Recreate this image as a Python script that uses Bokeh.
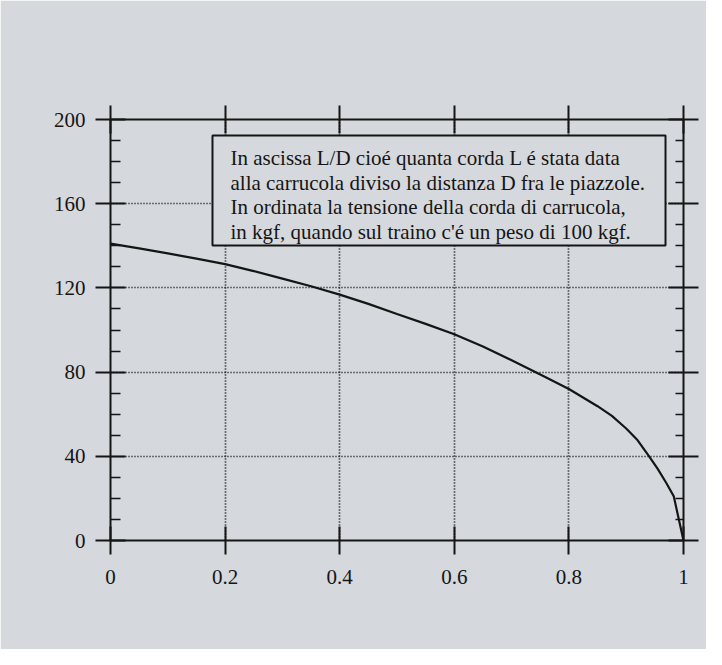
from bokeh.plotting import figure
from bokeh.models import LinearAxis, FixedTicker, Range1d, Grid
from bokeh.core.properties import value
from bokeh.embed import file_html
from bokeh.resources import INLINE

# ---- data ----
ratio = [0, 0.05, 0.1, 0.15, 0.2, 0.25, 0.3, 0.35, 0.4, 0.45, 0.5, 0.55, 0.6,
         0.65, 0.7, 0.75, 0.8, 0.85, 0.875, 0.9, 0.92, 0.94, 0.955, 0.97, 0.983, 1.0]
tension = [141, 138.8, 136.4, 133.9, 131.3, 128, 124.4, 120.8, 116.8, 112.4, 107.6, 102.9, 98,
           92.2, 85.6, 78.9, 72, 63.8, 59.2, 53.2, 47.6, 40, 34, 27.3, 21, 0]

x_ticks = [0, 0.2, 0.4, 0.6, 0.8, 1]
x_tick_labels = ["0", "0.2", "0.4", "0.6", "0.8", "1"]
y_ticks = [0, 40, 80, 120, 160, 200]
y_tick_labels = ["0", "40", "80", "120", "160", "200"]
y_minor = [10, 20, 30, 50, 60, 70, 90, 100, 110, 130, 140, 150, 170, 180, 190]
x_grid = [0.2, 0.4, 0.6, 0.8]
y_grid = [40, 80, 120, 160]

note_lines = [
    "In ascissa L/D cioé quanta corda L é stata data",
    "alla carrucola diviso la distanza D fra le piazzole.",
    "In ordinata la tensione della corda di carrucola,",
    "in kgf, quando sul traino c'é un peso di 100 kgf.",
]

BG = "#d5d8dc"
INK = "#151515"
SERIF = "Liberation Serif"

p = figure(
    width=706, height=649,
    frame_width=573, frame_height=421,
    min_border_left=110, min_border_right=23,
    min_border_top=119, min_border_bottom=109,
    x_range=Range1d(0, 1), y_range=Range1d(0, 200),
    x_axis_location=None, y_axis_location=None,
    toolbar_location=None, output_backend="svg",
)
p.background_fill_color = BG
p.border_fill_color = BG
p.outline_line_color = None
p.grid.visible = False

# dotted grid
xg = Grid(dimension=0, ticker=FixedTicker(ticks=x_grid),
          grid_line_color="#000000", grid_line_width=1.7, grid_line_dash="1 2")
yg = Grid(dimension=1, ticker=FixedTicker(ticks=y_grid),
          grid_line_color="#000000", grid_line_width=1.7, grid_line_dash="1 2")
p.add_layout(xg)
p.add_layout(yg)


def style(ax, tick_len, minor_in):
    ax.axis_line_color = INK
    ax.axis_line_width = 2
    ax.major_tick_line_color = INK
    ax.major_tick_line_width = 2
    ax.minor_tick_line_color = INK
    ax.minor_tick_line_width = 1.6
    ax.major_tick_in = tick_len
    ax.major_tick_out = tick_len
    ax.minor_tick_in = minor_in
    ax.minor_tick_out = 0
    ax.major_label_text_font = SERIF
    ax.major_label_text_font_size = "21px"
    ax.major_label_text_color = INK


left = LinearAxis(ticker=FixedTicker(ticks=y_ticks, minor_ticks=y_minor))
style(left, 15, 10)
left.major_label_overrides = dict(zip(y_ticks, y_tick_labels))
left.major_label_standoff = 10
p.add_layout(left, "left")

right = LinearAxis(ticker=FixedTicker(ticks=y_ticks, minor_ticks=y_minor))
style(right, 15, 8)
right.major_label_overrides = {t: "" for t in y_ticks}
right.major_label_standoff = 0
p.add_layout(right, "right")

bottom = LinearAxis(ticker=FixedTicker(ticks=x_ticks, minor_ticks=[]))
style(bottom, 14, 0)
bottom.major_label_overrides = dict(zip(x_ticks, x_tick_labels))
bottom.major_label_standoff = 15
p.add_layout(bottom, "below")

top = LinearAxis(ticker=FixedTicker(ticks=x_ticks, minor_ticks=[]))
style(top, 14, 0)
top.major_label_overrides = {t: "" for t in x_ticks}
top.major_label_standoff = 0
p.add_layout(top, "above")

# note box
p.quad(left=[0.178], right=[0.9686], top=[192.4], bottom=[140.1],
       fill_color=BG, fill_alpha=1, line_color=INK, line_width=2)
p.text(x=[0.2094] * 4, y=[181.5 - 11.6 * i for i in range(4)], text=note_lines,
       text_font=value(SERIF), text_font_size="21px", text_color=INK,
       text_align="left", text_baseline="alphabetic")

# curve
p.line(ratio, tension, line_color=INK, line_width=2.2)

open("out.html", "w").write(file_html(p, INLINE))
